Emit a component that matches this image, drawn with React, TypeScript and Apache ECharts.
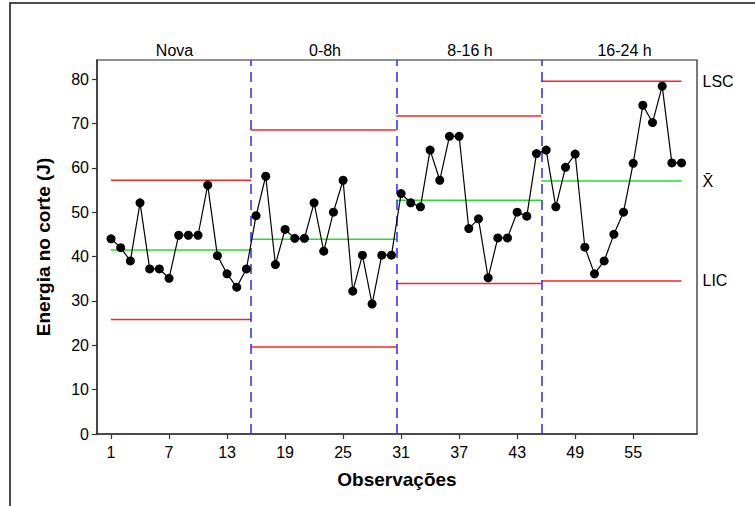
import React, { useEffect, useRef } from 'react';
import * as echarts from 'echarts';

// Observations per shift group
const groups = ['Nova', '0-8h', '8-16 h', '16-24 h'];
const nova = [44, 42, 39, 52.1, 37.2, 37.2, 35.1, 44.8, 44.8, 44.8, 56.1, 40.2, 36.1, 33.1, 37.2];
const h0to8 = [49.2, 58.1, 38.2, 46.1, 44.1, 44.1, 52.1, 41.2, 50, 57.2, 32.2, 40.3, 29.3, 40.3, 40.3];
const h8to16 = [54.2, 52.1, 51.2, 64, 57.2, 67.1, 67.1, 46.3, 48.5, 35.2, 44.2, 44.2, 50, 49.1, 63.2];
const h16to24 = [64, 51.2, 60.1, 63.1, 42.1, 36.1, 39, 45, 50, 61, 74.1, 70.2, 78.4, 61.1, 61.1];

// Control limits per group
const segStart = [1, 15.5, 30.5, 45.5];
const segEnd = [15.5, 30.5, 45.5, 60];
const lsc = [57.2, 68.5, 71.7, 79.5];
const xbar = [41.5, 43.9, 52.7, 57.0];
const lic = [25.8, 19.6, 33.9, 34.5];
const dividers = [15.5, 30.5, 45.5];

// Tick labels
const xTicks = [1, 7, 13, 19, 25, 31, 37, 43, 49, 55];
const yTicks = [0, 10, 20, 30, 40, 50, 60, 70, 80];
const limitNames = ['LSC', 'X\u0304', 'LIC'];

const groupLabelX = [174.5, 325, 470, 624.5];

const FONT = '"Liberation Sans", Arial, sans-serif';

export default function App() {
  const ref = useRef<HTMLDivElement>(null);
  useEffect(() => {
    if (!ref.current) return;
    const chart = echarts.init(ref.current, null, { renderer: 'svg' });
    const allValues = [...nova, ...h0to8, ...h8to16, ...h16to24];
    const points = allValues.map((v, i) => [i + 1, v]);

    const limitSeries: any[] = [];
    const limitSets = [
      { vals: lsc, color: '#ff2020', name: limitNames[0] },
      { vals: xbar, color: '#22e022', name: limitNames[1] },
      { vals: lic, color: '#ff2020', name: limitNames[2] },
    ];
    limitSets.forEach((set) => {
      set.vals.forEach((v, i) => {
        const last = i === set.vals.length - 1;
        limitSeries.push({
          type: 'line',
          data: [
            [segStart[i], v],
            [segEnd[i], v],
          ],
          showSymbol: false,
          symbol: 'none',
          silent: true,
          lineStyle: { color: set.color, width: 1.5 },
          z: 2,
          endLabel: last
            ? {
                show: true,
                formatter: set.name,
                distance: 21,
                color: '#000',
                fontSize: 16,
                fontFamily: FONT,
              }
            : undefined,
        });
      });
    });

    const option: any = {
      animation: false,
      backgroundColor: '#fff',
      grid: {
        left: 97,
        top: 60,
        right: 58,
        bottom: 72,
        show: true,
        borderColor: '#222',
        borderWidth: 1.2,
        backgroundColor: 'transparent',
      },
      xAxis: {
        type: 'value',
        min: -0.45,
        max: 61.6,
        name: 'Observações',
        nameLocation: 'middle',
        nameGap: 36,
        nameTextStyle: { fontSize: 19, fontWeight: 'bold', color: '#000', fontFamily: FONT },
        axisLine: { onZero: false, lineStyle: { color: '#333', width: 1.5 } },
        axisTick: { show: true, customValues: xTicks, length: 5, lineStyle: { color: '#333', width: 1.2 } },
        axisLabel: { customValues: xTicks, fontSize: 16, color: '#000', margin: 10, fontFamily: FONT },
        splitLine: { show: false },
      },
      yAxis: {
        type: 'value',
        min: 0,
        max: 84.3,
        name: 'Energia no corte (J)',
        nameLocation: 'middle',
        nameGap: 44,
        nameRotate: 90,
        nameTextStyle: { fontSize: 19, fontWeight: 'bold', color: '#000', fontFamily: FONT },
        axisLine: { show: true, onZero: false, lineStyle: { color: '#333', width: 1.5 } },
        axisTick: { show: true, customValues: yTicks, length: 5, lineStyle: { color: '#333', width: 1.2 } },
        axisLabel: { customValues: yTicks, fontSize: 16, color: '#000', margin: 8, fontFamily: FONT },
        splitLine: { show: false },
      },
      graphic: [
        {
          type: 'rect',
          shape: { x: 10, y: 3, width: 800, height: 600 },
          style: { fill: 'none', stroke: '#111', lineWidth: 1.5 },
          silent: true,
          z: -10,
        },
        ...groups.map((g, i) => ({
          type: 'text',
          x: groupLabelX[i],
          y: 50.5,
          style: {
            text: g,
            fontSize: 16,
            fontFamily: FONT,
            fill: '#000',
            align: 'center',
            verticalAlign: 'middle',
          },
        })),
      ],
      series: [
        ...limitSeries,
        {
          type: 'line',
          data: [],
          silent: true,
          markLine: {
            symbol: 'none',
            silent: true,
            label: { show: false },
            lineStyle: { color: '#2a2aff', width: 1.5, type: [10, 6] },
            data: dividers.map((d) => ({ xAxis: d })),
          },
          z: 3,
        },
        {
          type: 'line',
          data: points,
          symbol: 'circle',
          symbolSize: 9,
          itemStyle: { color: '#000' },
          lineStyle: { color: '#000', width: 1.2 },
          z: 5,
        },
      ],
    };
    chart.setOption(option);
    return () => chart.dispose();
  }, []);

  return (
    <div
      ref={ref}
      style={{ position: 'fixed', left: 0, top: 0, width: 755, height: 506, background: '#fff' }}
    />
  );
}
